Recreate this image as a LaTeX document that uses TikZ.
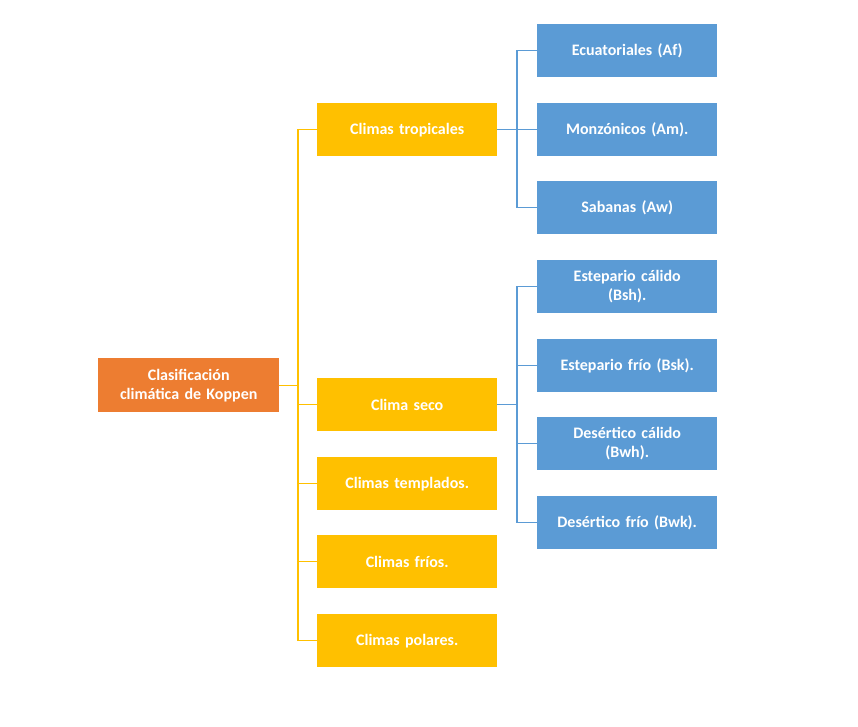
\documentclass[tikz,border=0pt]{standalone}
\usepackage{fontspec}
\setmainfont{Carlito}
\begin{document}
\begin{tikzpicture}[x=1pt,y=-1pt,
  box/.style={minimum width=180pt,minimum height=53pt,inner sep=2pt,text=white,font=\bfseries\fontsize{16}{19}\selectfont,align=center,anchor=north west,text width=176pt},
  yb/.style={box,fill=yellowc},
  bb/.style={box,fill=bluec},
  yl/.style={draw=yellowc,line width=1.3pt},
  bl/.style={draw=bluec,line width=1.3pt}]
\definecolor{yellowc}{HTML}{FFC000}
\definecolor{bluec}{HTML}{5B9BD5}
\definecolor{orangec}{HTML}{ED7D31}
\useasboundingbox (0,0) rectangle (858,727);
\node[box,fill=orangec,minimum width=181pt,minimum height=54pt] (root) at (98,358) {Clasificación\\climática de Koppen};
\node[yb] (t) at (317,103) {Climas tropicales};
\node[yb] (s) at (317,378) {Clima seco};
\node[yb] (te) at (317,457) {Climas templados.};
\node[yb] (f) at (317,535) {Climas fríos.};
\node[yb] (p) at (317,614) {Climas polares.};
\node[bb] (b1) at (537,24) {Ecuatoriales (Af)};
\node[bb] (b2) at (537,103) {Monzónicos (Am).};
\node[bb] (b3) at (537,181) {Sabanas (Aw)};
\node[bb] (b4) at (537,260) {Estepario cálido\\(Bsh).};
\node[bb] (b5) at (537,339) {Estepario frío (Bsk).};
\node[bb] (b6) at (537,417) {Desértico cálido\\(Bwh).};
\node[bb] (b7) at (537,496) {Desértico frío (Bwk).};
\coordinate (yx) at (298,0);
\foreach \n in {t,s,te,f,p} \draw[yl] (root.east) -| (yx |- \n.west) -- (\n.west);
\coordinate (bx) at (517,0);
\foreach \n in {b1,b2,b3} \draw[bl] (t.east) -| (bx |- \n.west) -- (\n.west);
\foreach \n in {b4,b5,b6,b7} \draw[bl] (s.east) -| (bx |- \n.west) -- (\n.west);
\end{tikzpicture}
\end{document}
